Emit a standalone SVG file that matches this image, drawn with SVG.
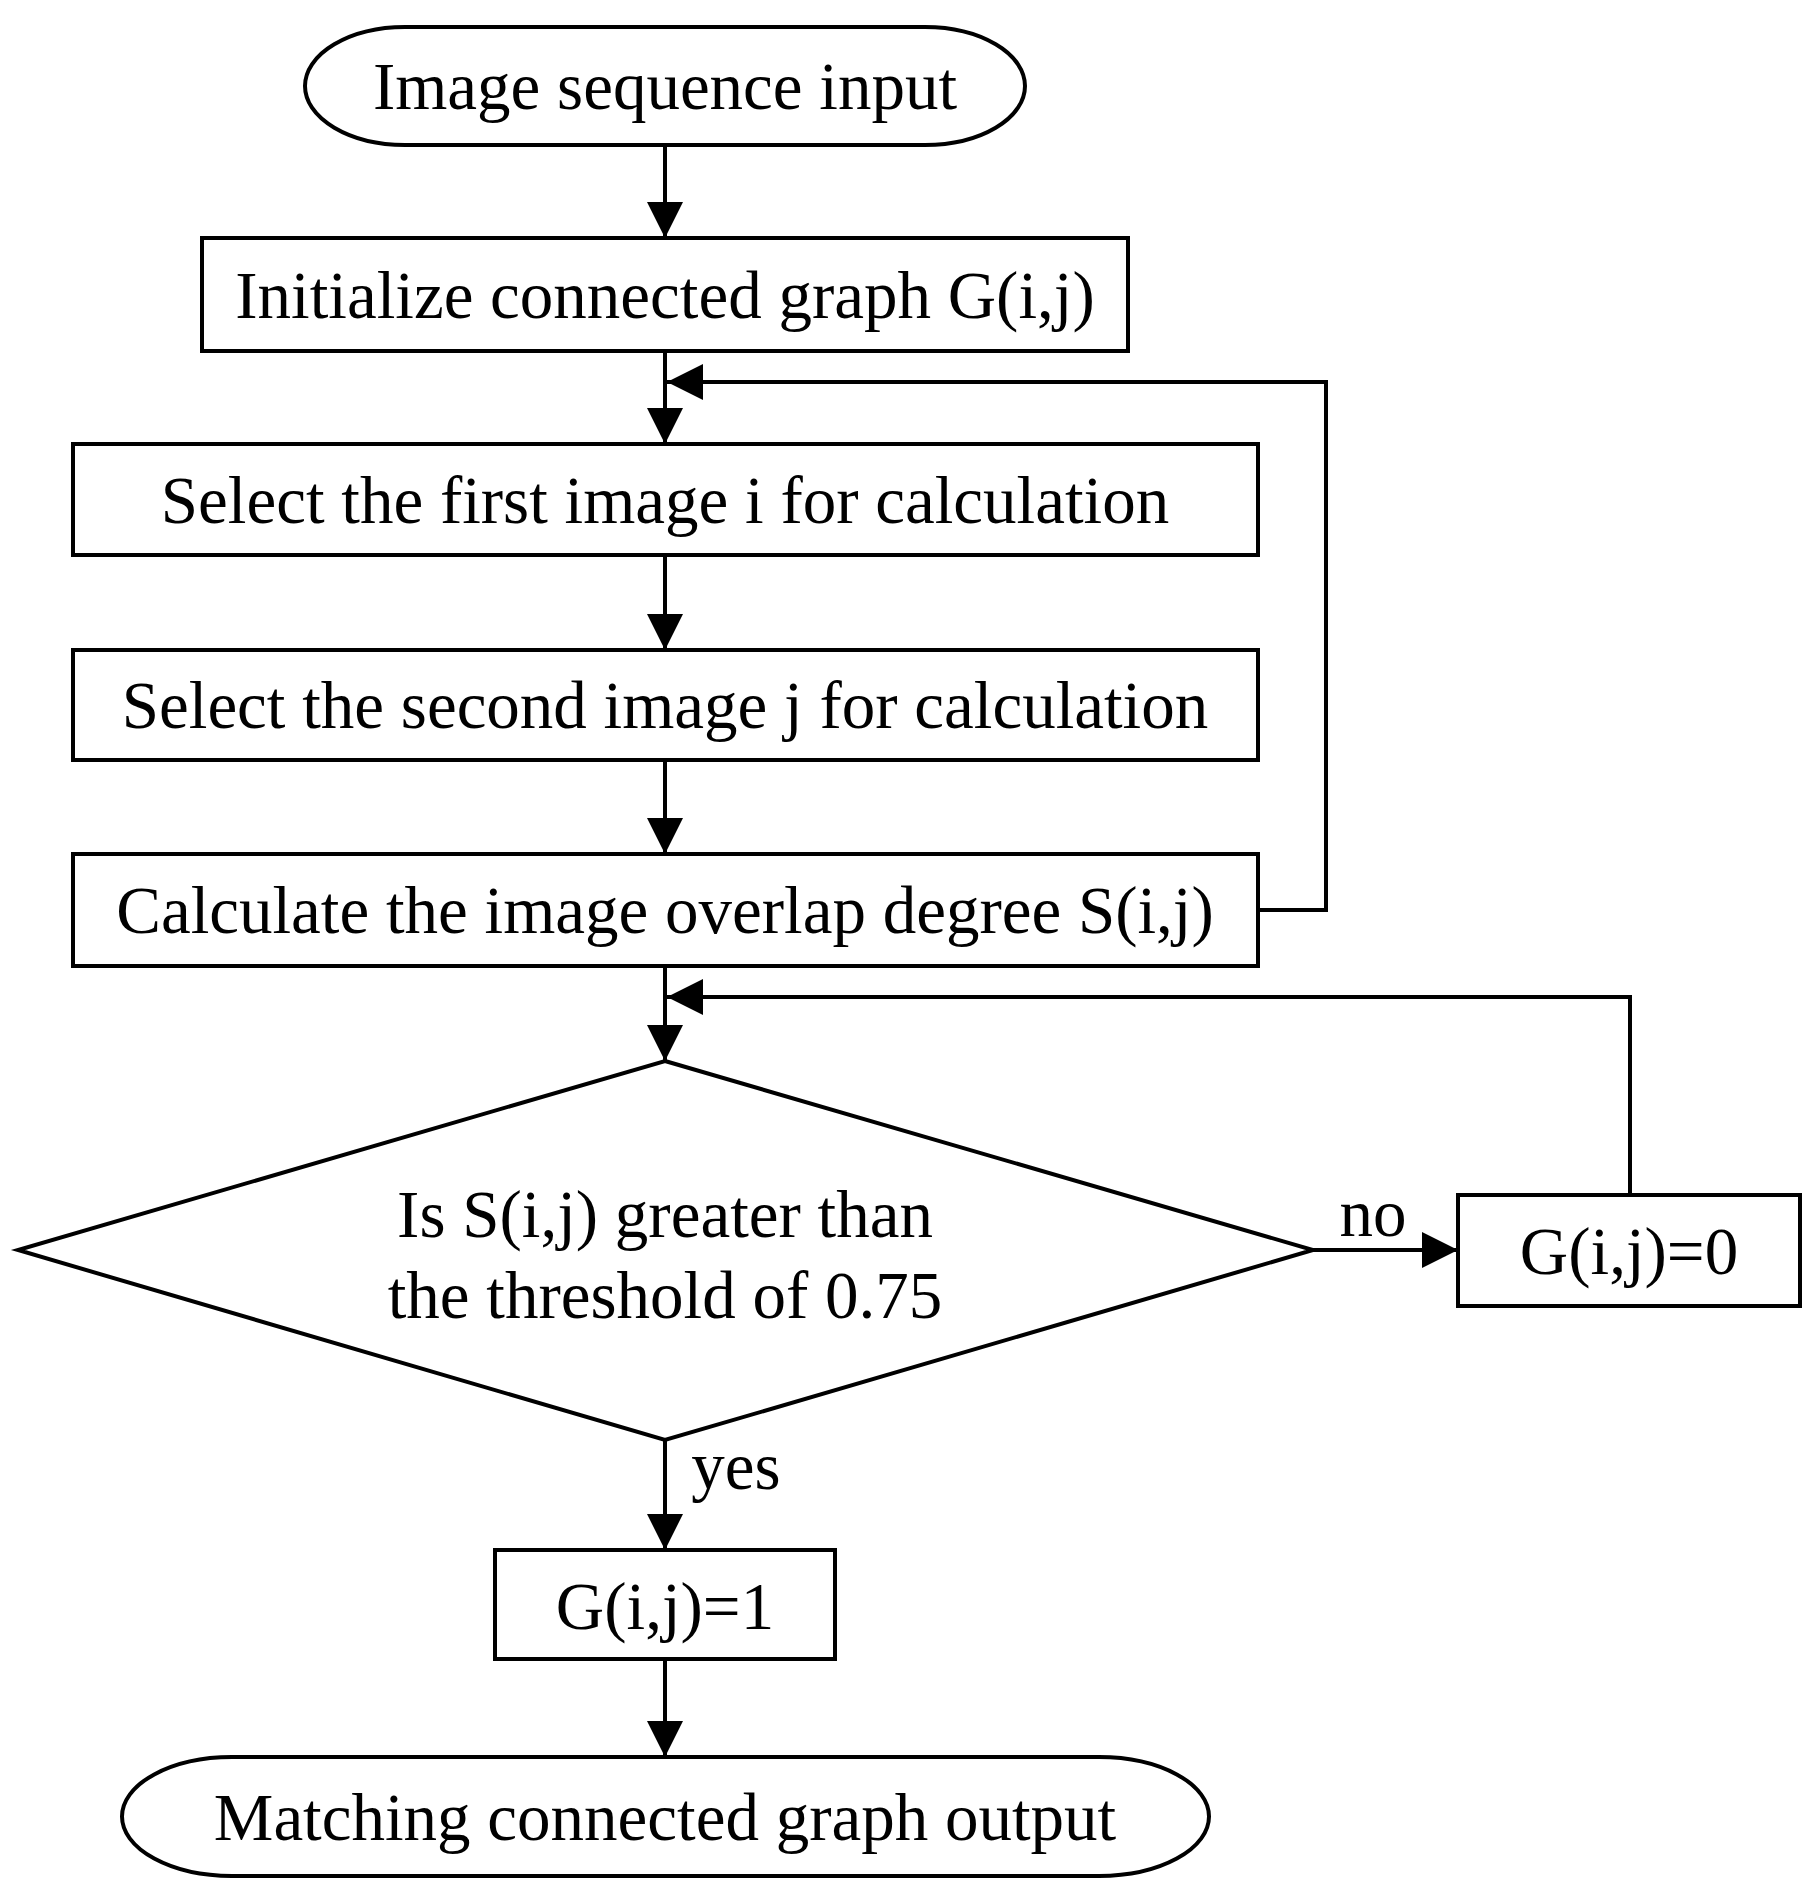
<svg xmlns="http://www.w3.org/2000/svg" width="1815" height="1887" viewBox="0 0 1815 1887">
<style>
.s{fill:#fff;stroke:#000;stroke-width:4}
.l{fill:none;stroke:#000;stroke-width:4}
text{font-family:"Liberation Serif","Times New Roman",serif;font-size:67px;text-anchor:middle;fill:#000}
</style>
<defs>
<marker id="ah" viewBox="0 0 10 10" refX="10" refY="5" markerWidth="36" markerHeight="36" markerUnits="userSpaceOnUse" orient="auto"><path d="M0,0L10,5L0,10z"/></marker></defs>
<g id="connectors">
<path class="l" d="M665,145V238" marker-end="url(#ah)"/>
<path class="l" d="M665,351V444" marker-end="url(#ah)"/>
<path class="l" d="M665,555V650" marker-end="url(#ah)"/>
<path class="l" d="M665,760V854" marker-end="url(#ah)"/>
<path class="l" d="M1258,910H1326V382H667" marker-end="url(#ah)"/>
<path class="l" d="M665,966V1061" marker-end="url(#ah)"/>
<path class="l" d="M1630,1195V997H667" marker-end="url(#ah)"/>
<path class="l" d="M1313,1250H1458" marker-end="url(#ah)"/>
<path class="l" d="M665,1440V1550" marker-end="url(#ah)"/>
<path class="l" d="M665,1659V1757" marker-end="url(#ah)"/>
<text x="1373" y="1236">no</text>
<text x="736" y="1489">yes</text>
</g>
<g id="start"><rect class="s" x="305" y="27" width="720" height="118" rx="100" ry="59"/><text x="665" y="109">Image sequence input</text></g>
<g id="init"><rect class="s" x="202" y="238" width="926" height="113"/><text x="665" y="318">Initialize connected graph G(i,j)</text></g>
<g id="first"><rect class="s" x="73" y="444" width="1185" height="111"/><text x="665" y="523">Select the first image i for calculation</text></g>
<g id="second"><rect class="s" x="73" y="650" width="1185" height="110"/><text x="665" y="728">Select the second image j for calculation</text></g>
<g id="calc"><rect class="s" x="73" y="854" width="1185" height="112"/><text x="665" y="933">Calculate the image overlap degree S(i,j)</text></g>
<g id="decision"><path class="s" d="M665,1061L1313,1250L665,1440L18,1250Z"/><text x="665" y="1237">Is S(i,j) greater than</text><text x="665" y="1318">the threshold of 0.75</text></g>
<g id="g0"><rect class="s" x="1458" y="1195" width="342" height="111"/><text x="1629" y="1274">G(i,j)=0</text></g>
<g id="g1"><rect class="s" x="495" y="1550" width="340" height="109"/><text x="665" y="1629">G(i,j)=1</text></g>
<g id="end"><rect class="s" x="122" y="1757" width="1087" height="119" rx="110" ry="59.5"/><text x="665" y="1840">Matching connected graph output</text></g>
</svg>
